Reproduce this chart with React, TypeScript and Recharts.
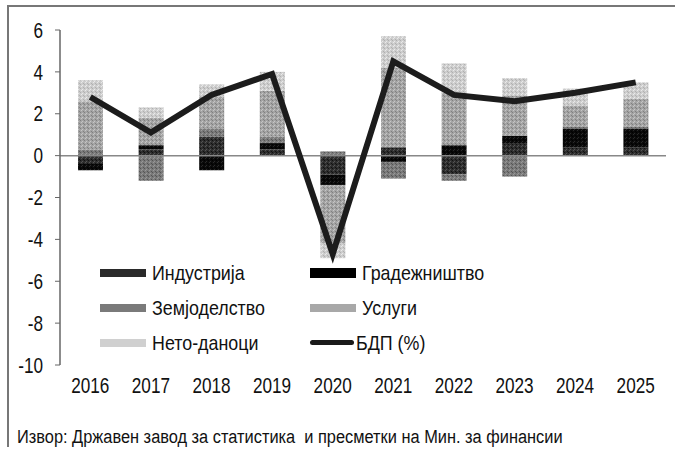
import React from 'react';
import { ComposedChart, Bar, Line, XAxis, YAxis, ReferenceLine } from 'recharts';

const years = ['2016', '2017', '2018', '2019', '2020', '2021', '2022', '2023', '2024', '2025'];
const industry = [-0.4, 0.3, 0.9, 0.3, -0.9, 0.4, -0.9, 0.6, 0.4, 0.4];
const construction = [-0.3, 0.2, -0.7, 0.3, -0.5, -0.3, 0.5, 0.35, 0.9, 0.9];
const agriculture = [0.3, -1.2, 0.4, 0.3, 0.2, -0.8, -0.3, -1.0, 0.1, 0.1];
const services = [2.3, 1.3, 1.5, 2.2, -2.8, 3.8, 2.5, 1.9, 1.0, 1.3];
const netTaxes = [1.0, 0.5, 0.6, 0.9, -0.7, 1.5, 1.4, 0.85, 0.8, 0.8];
const gdp = [2.8, 1.1, 2.9, 3.9, -4.7, 4.5, 2.9, 2.6, 3.0, 3.5];
const yTicks = [-10, -8, -6, -4, -2, 0, 2, 4, 6];

const data = years.map((year, i) => ({
  year,
  industry: industry[i],
  construction: construction[i],
  agriculture: agriculture[i],
  services: services[i],
  netTaxes: netTaxes[i],
  gdp: gdp[i],
}));

const FONT = '"Liberation Sans", Arial, sans-serif';

// grainy fills, each a small dither of two or three greys
const fills = [
  { id: 'fInd', base: '#2e2e2e', dots: ['#111', '#555'] },
  { id: 'fCon', base: '#0a0a0a', dots: ['#000', '#2a2a2a'] },
  { id: 'fAgr', base: '#7a7a7a', dots: ['#555', '#999'] },
  { id: 'fSrv', base: '#a4a4a4', dots: ['#808080', '#c6c6c6'] },
  { id: 'fTax', base: '#cdcdcd', dots: ['#b0b0b0', '#eaeaea'] },
];

const series = [
  { key: 'industry', name: 'Индустрија', fill: 'url(#fInd)' },
  { key: 'construction', name: 'Градежништво', fill: 'url(#fCon)' },
  { key: 'agriculture', name: 'Земјоделство', fill: 'url(#fAgr)' },
  { key: 'services', name: 'Услуги', fill: 'url(#fSrv)' },
  { key: 'netTaxes', name: 'Нето-даноци', fill: 'url(#fTax)' },
];

const legendSwatch: Record<string, string> = {
  industry: '#2a2a2a',
  construction: '#000',
  agriculture: '#7a7a7a',
  services: '#a8a8a8',
  netTaxes: '#d0d0d0',
};

// condensed look: squeeze text horizontally around its anchor point
function NarrowTick(props: any) {
  const { x, y, payload, anchor, dy } = props;
  return (
    <text
      x={x}
      y={y}
      dy={dy}
      textAnchor={anchor}
      fontSize={22}
      fill="#111"
      fontFamily={FONT}
      transform={`translate(${x} ${y}) scale(0.78 1) translate(${-x} ${-y})`}
    >
      {payload.value}
    </text>
  );
}

function Narrow({ children, scale }: { children: React.ReactNode; scale: number }) {
  return <span style={{ display: 'inline-block', transform: `scaleX(${scale})`, transformOrigin: 'left center', whiteSpace: 'pre' }}>{children}</span>;
}

function LegendBox() {
  const rows = [
    [series[0], series[1]],
    [series[2], series[3]],
    [series[4], null],
  ];
  return (
    <div style={{ position: 'absolute', left: 100, top: 255, fontFamily: FONT, fontSize: 21, color: '#111' }}>
      {rows.map((row, r) => (
        <div key={r} style={{ display: 'flex', alignItems: 'center', height: 35 }}>
          {row.map((s, c) => (
            <div key={c} style={{ display: 'flex', alignItems: 'center', width: c === 0 ? 210 : 200 }}>
              {s ? (
                <span style={{ width: 46, height: s.key === 'construction' ? 10 : 8, background: legendSwatch[s.key], marginRight: 6 }} />
              ) : (
                <span style={{ width: 44, height: 5, background: '#1a1a1a', borderRadius: 3, marginRight: 2 }} />
              )}
              <Narrow scale={0.85}>{s ? s.name : 'БДП (%)'}</Narrow>
            </div>
          ))}
        </div>
      ))}
    </div>
  );
}

export default function App() {
  return (
    <div style={{ position: 'absolute', left: 0, top: 0, width: 675, height: 452, background: '#fff', overflow: 'hidden' }}>
      <div style={{ position: 'absolute', left: 7, top: 5, width: 680, height: 440, borderLeft: '2px solid #777', borderTop: '2px solid #777' }} />
      <div style={{ position: 'absolute', left: 0, top: 0 }}>
        <ComposedChart width={675} height={405} data={data} stackOffset="sign" barSize={25} margin={{ top: 30, right: 9, left: 0, bottom: 5 }}>
          <defs>
            {fills.map((f) => (
              <pattern key={f.id} id={f.id} width={4} height={4} patternUnits="userSpaceOnUse">
                <rect width={4} height={4} fill={f.base} />
                <rect x={0} y={0} width={1} height={1} fill={f.dots[0]} />
                <rect x={2} y={1} width={1} height={1} fill={f.dots[1]} />
                <rect x={1} y={2} width={1} height={1} fill={f.dots[1]} />
                <rect x={3} y={3} width={1} height={1} fill={f.dots[0]} />
              </pattern>
            ))}
          </defs>
          <XAxis
            dataKey="year"
            axisLine={false}
            tickLine={false}
            height={35}
            tickMargin={6}
            tick={<NarrowTick anchor="middle" dy="0.71em" />}
          />
          <YAxis
            domain={[-10, 6]}
            ticks={yTicks}
            width={60}
            interval={0}
            axisLine={{ stroke: '#666', strokeWidth: 1.5 }}
            tickLine={{ stroke: '#666' }}
            tickSize={5}
            tickMargin={12}
            tick={<NarrowTick anchor="end" dy="0.35em" />}
          />
          <ReferenceLine y={0} stroke="#888" strokeWidth={1.5} />
          {series.map((s) => (
            <Bar key={s.key} dataKey={s.key} name={s.name} stackId="gdp" fill={s.fill} isAnimationActive={false} />
          ))}
          <Line dataKey="gdp" name="БДП (%)" stroke="#1c1c1c" strokeWidth={6} dot={false} isAnimationActive={false} />
        </ComposedChart>
      </div>
      <LegendBox />
      <div style={{ position: 'absolute', left: 17, top: 427, fontFamily: FONT, fontSize: 18, color: '#111' }}>
        <Narrow scale={0.91}>{'Извор: Државен завод за статистика  и пресметки на Мин. за финансии'}</Narrow>
      </div>
    </div>
  );
}
